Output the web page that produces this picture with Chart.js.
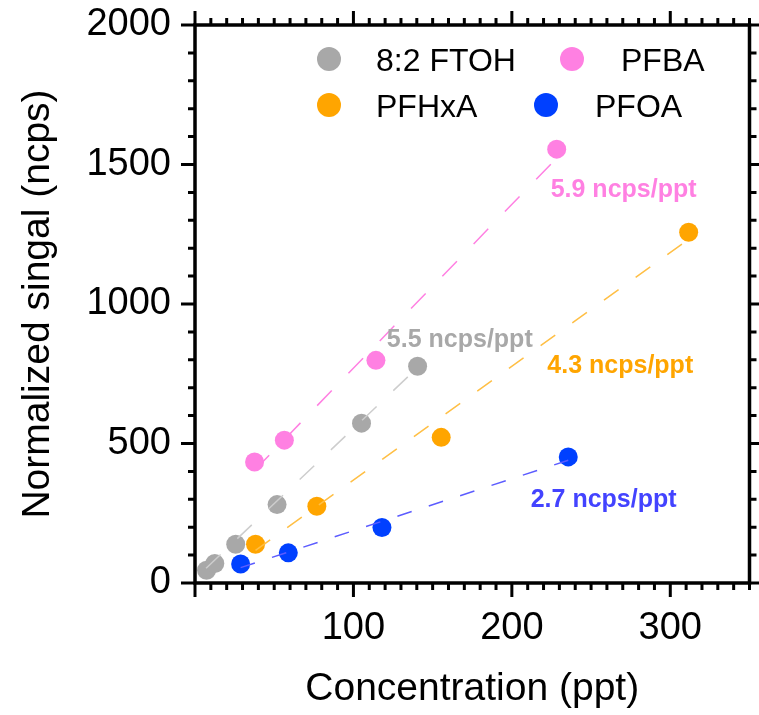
<!DOCTYPE html>
<html>
<head>
<meta charset="utf-8">
<title>Normalized signal vs concentration</title>
<script src="https://cdn.jsdelivr.net/npm/chart.js@4.4.1/dist/chart.umd.min.js"></script>
<style>
    html, body { margin: 0; padding: 0; background: #ffffff; }
    #wrap { width: 759px; height: 715px; }
</style>
</head>
<body>
<div id="wrap"><canvas id="calChart" width="759" height="715"></canvas></div>
<script>
// measured points (x = ppt, y = ncps)
const ftohX = [7.3, 12.5, 25.7, 51.8, 105.1, 140.5];
const ftohY = [46, 70, 139, 281, 573, 777];
const pfbaX = [37.6, 56.4, 114.2, 228.3];
const pfbaY = [434, 512, 798, 1555];
const pfhxaX = [38.2, 76.9, 155.4, 311.6];
const pfhxaY = [139, 275, 522, 1257];
const pfoaX = [28.8, 58.9, 118.0, 235.6];
const pfoaY = [68, 108, 199, 452];

// fitted lines, end points
const ftohFitX = [7, 140.5];
const ftohFitY = [53, 772];
const pfbaFitX = [37.6, 228.3];
const pfbaFitY = [404, 1523];
const pfhxaFitX = [38.2, 311.6];
const pfhxaFitY = [117, 1232];
const pfoaFitX = [28.8, 235.6];
const pfoaFitY = [55, 440];

// slope labels and where they sit (data units, left / baseline)
const slopeLabels = ['5.5 ncps/ppt', '5.9 ncps/ppt', '4.3 ncps/ppt', '2.7 ncps/ppt'];
const slopeLabelX = [121.1, 224.5, 222.4, 211.9];
const slopeLabelY = [845, 1385, 751, 271];

const seriesNames = ['8:2 FTOH', 'PFBA', 'PFHxA', 'PFOA'];

const xTicks = [100, 200, 300];
const yTicks = [0, 500, 1000, 1500, 2000];

const colors = {
    ftoh: '#a8a8a8',
    pfba: '#ff80e2',
    pfhxa: '#ffa500',
    pfoa: '#0040ff',
    ftohLine: '#cdcdcd',
    pfbaLine: '#ff80e2',
    pfhxaLine: '#ffbf45',
    pfoaLine: '#5c5cff',
    pfoaText: '#4343ff'
};
const pointColors = [colors.ftoh, colors.pfba, colors.pfhxa, colors.pfoa];
const labelColors = [colors.ftoh, colors.pfba, colors.pfhxa, colors.pfoaText];

const FONT = '"Liberation Sans", Arial, Helvetica, sans-serif';

function toPoints(xs, ys) {
    return xs.map((x, i) => ({ x: x, y: ys[i] }));
}

function pointSet(label, xs, ys, color) {
    return {
        label: label,
        data: toPoints(xs, ys),
        backgroundColor: color,
        borderColor: color,
        borderWidth: 0,
        pointRadius: 9.5,
        pointHoverRadius: 9.5,
        showLine: false,
        order: 2
    };
}

function fitSet(xs, ys, color, dash) {
    return {
        label: 'fit',
        data: toPoints(xs, ys),
        borderColor: color,
        borderWidth: 1.5,
        borderDash: dash,
        pointRadius: 0,
        showLine: true,
        fill: false,
        order: 1
    };
}

// keep the axes from pushing the plot area around
function noScalePadding(s) {
    s.paddingTop = 0;
    s.paddingBottom = 0;
    s.paddingLeft = 0;
    s.paddingRight = 0;
}

// box around the plot with outward major/minor ticks on all four sides
const frameTicks = {
    id: 'frameTicks',
    afterDatasetsDraw(chart) {
        const { ctx, chartArea: a, scales } = chart;
        const xs = scales.x, ys = scales.y;
        const major = 14, minor = 7;
        ctx.save();
        ctx.strokeStyle = '#000';
        ctx.lineCap = 'butt';
        ctx.lineWidth = 3;
        ctx.beginPath();
        for (let v = 0; v <= 350; v += 10) {
            const px = xs.getPixelForValue(v);
            const len = v % 100 === 0 ? major : minor;
            ctx.moveTo(px, a.bottom); ctx.lineTo(px, a.bottom + len);
            ctx.moveTo(px, a.top); ctx.lineTo(px, a.top - len);
        }
        for (let v = 0; v <= 2000; v += 100) {
            const py = ys.getPixelForValue(v);
            const len = v % 500 === 0 ? major : minor;
            ctx.moveTo(a.left, py); ctx.lineTo(a.left - len, py);
            ctx.moveTo(a.right, py); ctx.lineTo(a.right + len, py);
        }
        ctx.stroke();
        ctx.lineWidth = 3.5;
        ctx.strokeRect(a.left, a.top, a.right - a.left, a.bottom - a.top);
        ctx.restore();
    }
};

// slope annotations
const slopeText = {
    id: 'slopeText',
    afterDatasetsDraw(chart) {
        const { ctx, scales } = chart;
        ctx.save();
        ctx.font = 'bold 25px ' + FONT;
        ctx.textAlign = 'left';
        ctx.textBaseline = 'alphabetic';
        slopeLabels.forEach((txt, i) => {
            ctx.fillStyle = labelColors[i];
            ctx.fillText(txt, scales.x.getPixelForValue(slopeLabelX[i]), scales.y.getPixelForValue(slopeLabelY[i]));
        });
        ctx.restore();
    }
};

// two-column legend inside the plot, as in the figure
const boxLegend = {
    id: 'boxLegend',
    afterDraw(chart) {
        const { ctx } = chart;
        const items = [
            { i: 0, mx: 329, my: 59, tx: 376 },
            { i: 1, mx: 572, my: 59, tx: 621 },
            { i: 2, mx: 329, my: 105, tx: 376 },
            { i: 3, mx: 546, my: 105, tx: 595 }
        ];
        ctx.save();
        ctx.font = '32px ' + FONT;
        ctx.textAlign = 'left';
        ctx.textBaseline = 'alphabetic';
        items.forEach(it => {
            ctx.fillStyle = pointColors[it.i];
            ctx.beginPath();
            ctx.arc(it.mx, it.my, 12, 0, Math.PI * 2);
            ctx.fill();
            ctx.fillStyle = '#000';
            ctx.fillText(seriesNames[it.i], it.tx, it.my + 11.5);
        });
        ctx.restore();
    }
};

const ctx = document.getElementById('calChart').getContext('2d');
const chart = new Chart(ctx, {
    type: 'scatter',
    data: {
        datasets: [
            fitSet(ftohFitX, ftohFitY, colors.ftohLine, [20, 23]),
            fitSet(pfbaFitX, pfbaFitY, colors.pfbaLine, [21, 24]),
            fitSet(pfhxaFitX, pfhxaFitY, colors.pfhxaLine, [18, 21]),
            fitSet(pfoaFitX, pfoaFitY, colors.pfoaLine, [15, 18]),
            pointSet(seriesNames[0], ftohX, ftohY, colors.ftoh),
            pointSet(seriesNames[1], pfbaX, pfbaY, colors.pfba),
            pointSet(seriesNames[2], pfhxaX, pfhxaY, colors.pfhxa),
            pointSet(seriesNames[3], pfoaX, pfoaY, colors.pfoa)
        ]
    },
    options: {
        responsive: false,
        animation: false,
        layout: { padding: { top: 25, right: 5.5, bottom: 0, left: 0 } },
        plugins: {
            legend: { display: false },
            tooltip: { enabled: false }
        },
        scales: {
            x: {
                type: 'linear',
                min: 0,
                max: 350,
                afterFit: s => { s.height = 132; noScalePadding(s); },
                afterBuildTicks: s => { s.ticks = xTicks.map(v => ({ value: v })); },
                grid: { display: false, drawTicks: false },
                border: { display: false },
                ticks: {
                    color: '#000',
                    padding: 23,
                    maxRotation: 0,
                    autoSkip: false,
                    callback: v => String(v),
                    font: { family: FONT, size: 38 }
                },
                title: {
                    display: true,
                    text: 'Concentration (ppt)',
                    color: '#000',
                    font: { family: FONT, size: 39 },
                    padding: { top: 0, bottom: 2 }
                }
            },
            y: {
                type: 'linear',
                min: 0,
                max: 2000,
                afterFit: s => { s.width = 195; noScalePadding(s); },
                afterBuildTicks: s => { s.ticks = yTicks.map(v => ({ value: v })); },
                grid: { display: false, drawTicks: false },
                border: { display: false },
                ticks: {
                    color: '#000',
                    padding: 24,
                    autoSkip: false,
                    callback: v => String(v),
                    font: { family: FONT, size: 38 }
                },
                title: {
                    display: true,
                    text: 'Normalized singal (ncps)',
                    color: '#000',
                    font: { family: FONT, size: 39 },
                    padding: { top: 15, bottom: 0 }
                }
            }
        }
    },
    plugins: [frameTicks, slopeText, boxLegend]
});
</script>
</body>
</html>
